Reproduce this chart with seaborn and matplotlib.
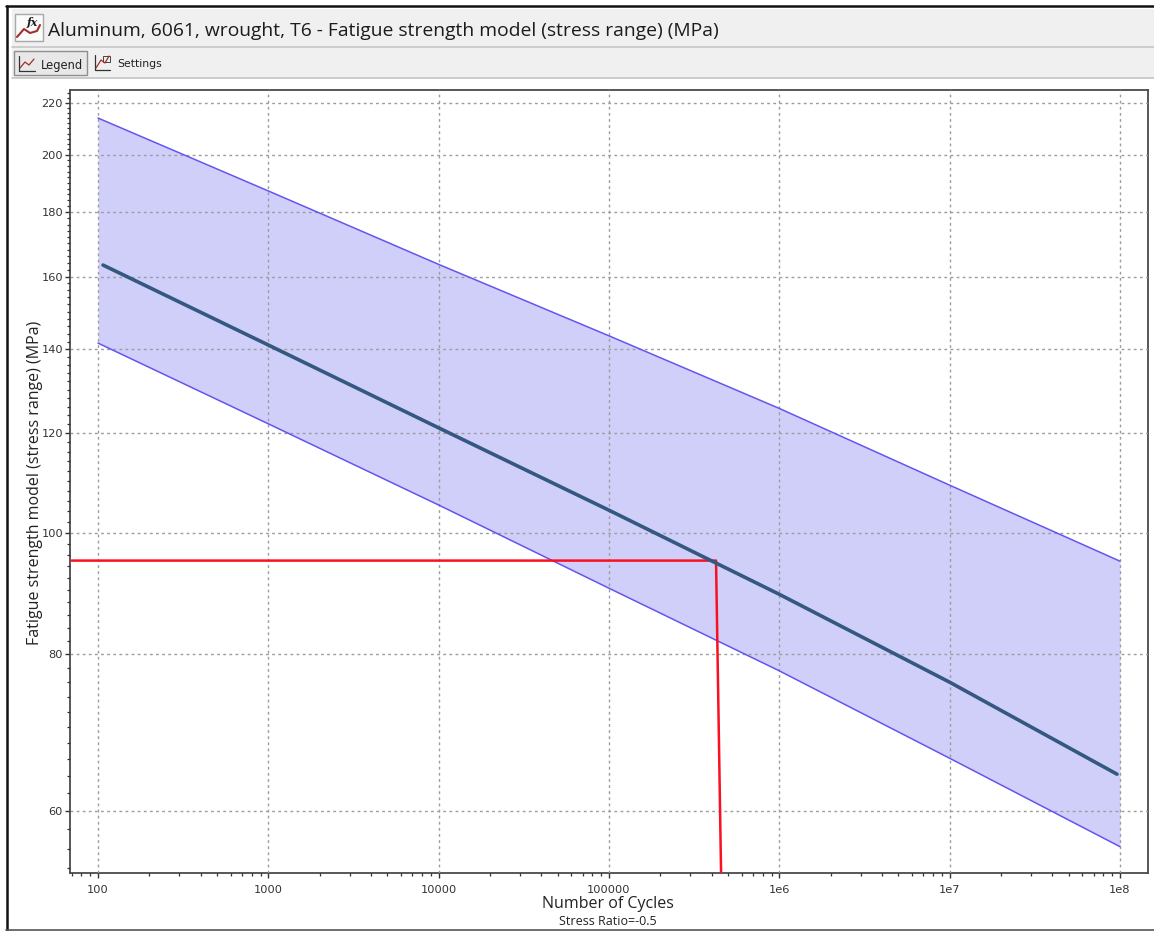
import matplotlib
matplotlib.use("Agg")
import matplotlib.pyplot as plt
from matplotlib.patches import Rectangle
from matplotlib.lines import Line2D
from matplotlib.ticker import FixedLocator, FixedFormatter, NullFormatter
import numpy as np
import pandas as pd
import seaborn as sns

title = "Aluminum, 6061, wrought, T6 - Fatigue strength model (stress range) (MPa)"
x_label = "Number of Cycles"
y_label = "Fatigue strength model (stress range) (MPa)"
sub_label = "Stress Ratio=-0.5"

band_cycles = [1e2, 1e3, 1e4, 1e5, 1e6, 1e7, 1e8]
upper_vals = [214.0, 187.2, 163.6, 143.5, 125.6, 109.1, 94.9]
lower_vals = [141.6, 122.1, 105.2, 90.3, 77.6, 66.1, 56.2]
mean_cycles = [107, 1e3, 1e4, 1e5, 1e6, 1e7, 9.6e7]
mean_vals = [163.4, 141.1, 121.2, 104.2, 89.3, 76.0, 64.2]
red_cycles = [70, 425000, 455000]
red_vals = [95.0, 95.0, 53.5]

x_ticks = [1e2, 1e3, 1e4, 1e5, 1e6, 1e7, 1e8]
x_tick_labels = ["100", "1000", "10000", "100000", "1e6", "1e7", "1e8"]
y_ticks = [60, 80, 100, 120, 140, 160, 180, 200, 220]

sns.set_theme(style="white")
plt.rcParams["font.family"] = ["Open Sans", "DejaVu Sans"]

W, H = 1154, 931
fig = plt.figure(figsize=(W / 100, H / 100), dpi=100, facecolor="white")


def fx(p):
    return p / W


def fy(p):
    return 1 - p / H


# Window chrome
def rect(x0, y0, x1, y1, fc, ec="none", lw=0):
    fig.add_artist(Rectangle((fx(x0), fy(y1)), fx(x1 - x0), (y1 - y0) / H,
                             transform=fig.transFigure, fc=fc, ec=ec, lw=lw))


def line(xs, ys, color, lw=1.0):
    fig.add_artist(Line2D([fx(v) for v in xs], [fy(v) for v in ys],
                          transform=fig.transFigure, color=color, lw=lw))


rect(12, 9, 1154, 46, "#f0f0f0")
rect(12, 48, 1154, 78, "#f0f0f0")
line([12, 1154], [47, 47], "#c4c4c4", 1.2)
line([12, 1154], [78, 78], "#c4c4c4", 1.2)
line([6.8, 6.8], [6, 931], "#111111", 1.8)
line([6, 1154], [6.2, 6.2], "#111111", 1.8)
line([6, 1154], [929.5, 929.5], "#555555", 1.2)

# Toolbar icons and buttons
rect(14.5, 13.5, 42.5, 41, "#fbfbfb", "#a8a8a8", 1.0)
line([17, 24, 30, 37, 40], [37, 29, 33, 31, 25], "#a03028", 1.5)
fig.text(fx(32), fy(26), "fx", fontsize=8, style="italic", weight="bold",
         family="DejaVu Serif", ha="center", va="baseline", color="#222222")
rect(13.5, 51.5, 87, 75, "#e8e8e8", "#8f8f8f", 1.0)
line([19, 19, 35], [56, 71, 71], "#333333", 0.9)
line([20, 25, 29, 34], [68, 62, 65, 59], "#a03028", 0.9)
line([95, 95, 110], [55, 70, 70], "#333333", 0.9)
line([96, 101, 105, 109], [68, 60, 63, 56], "#a03028", 0.9)
rect(103, 56, 110, 62, "none", "#444444", 0.7)
fig.text(fx(41), fy(65), "Legend", fontsize=8.3, family="DejaVu Sans", va="center", color="#222222")
fig.text(fx(117), fy(64), "Settings", fontsize=7.8, family="DejaVu Sans", va="center", color="#222222")
fig.text(fx(48), fy(30.5), title, fontsize=13.9, va="center", color="#1c1c1c")

# Plot
ax = fig.add_axes([fx(70), fy(873), (1148 - 70) / W, (873 - 90) / H])
ax.set_xscale("log")
ax.set_yscale("log")
ax.set_xlim(10 ** (2 - 28 / 170.3), 10 ** (8 + 28 / 170.3))
ax.set_ylim(53.55, 225.3)

ax.fill_between(band_cycles, lower_vals, upper_vals, color="#cfcffa", lw=0, zorder=1)

band = pd.DataFrame({"cycles": band_cycles, "upper": upper_vals, "lower": lower_vals})
mean = pd.DataFrame({"cycles": mean_cycles, "value": mean_vals})
red = pd.DataFrame({"cycles": red_cycles, "value": red_vals})
sns.lineplot(data=band, x="cycles", y="upper", color="#6455ee", lw=1.1, ax=ax, zorder=3, errorbar=None)
sns.lineplot(data=band, x="cycles", y="lower", color="#6455ee", lw=1.1, ax=ax, zorder=3, errorbar=None)
sns.lineplot(data=red, x="cycles", y="value", color="#fa1020", lw=1.8, ax=ax, zorder=4,
             errorbar=None, sort=False, estimator=None)
sns.lineplot(data=mean, x="cycles", y="value", color="#34587f", lw=2.6, ax=ax, zorder=5, errorbar=None)

ax.xaxis.set_major_locator(FixedLocator(x_ticks))
ax.xaxis.set_major_formatter(FixedFormatter(x_tick_labels))
ax.xaxis.set_minor_locator(FixedLocator(
    [m * d for d in [10, 1e2, 1e3, 1e4, 1e5, 1e6, 1e7, 1e8] for m in range(2, 10)]))
ax.xaxis.set_minor_formatter(NullFormatter())
ax.yaxis.set_major_locator(FixedLocator(y_ticks))
ax.yaxis.set_major_formatter(FixedFormatter([str(v) for v in y_ticks]))
ax.yaxis.set_minor_locator(FixedLocator(np.arange(54, 226, 2)))
ax.yaxis.set_minor_formatter(NullFormatter())

ax.grid(True, which="major", color="#9c9c9c", ls=(0, (2.0, 2.4)), lw=1.0)
ax.set_axisbelow(False)
ax.tick_params(axis="both", which="major", direction="out", length=3.8, width=1.0,
               color="#333333", labelsize=8.2, labelcolor="#333333",
               bottom=True, left=True)
ax.tick_params(axis="x", which="major", pad=4.5)
ax.tick_params(axis="y", which="major", pad=1.2)
ax.tick_params(axis="both", which="minor", direction="out", length=2, width=0.9,
               color="#333333", bottom=True, left=True)
for lab in ax.get_xticklabels() + ax.get_yticklabels():
    lab.set_family("DejaVu Sans")
for s in ax.spines.values():
    s.set_color("#4a4a4a")
    s.set_linewidth(1.3)
ax.set_xlabel("")
ax.set_ylabel("")

fig.text(fx(608), fy(904), x_label, fontsize=11.5, ha="center", va="center", color="#222222")
fig.text(fx(608), fy(921.5), sub_label, fontsize=9, ha="center", va="center", color="#222222")
fig.text(fx(35.5), fy(483), y_label, fontsize=11.5, rotation=90, ha="center", va="center", color="#222222")

fig.savefig("out.png", dpi=100)
